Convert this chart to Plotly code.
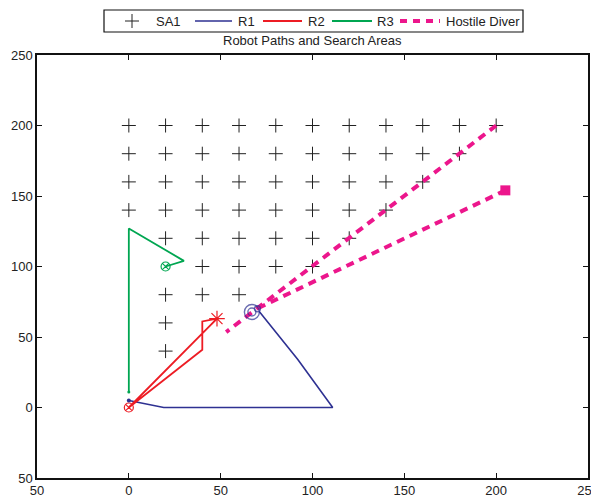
import plotly.graph_objects as go

# ---- data ----
sa1_rows = {200: list(range(0, 201, 20)),
            180: list(range(0, 181, 20)),
            160: list(range(0, 161, 20)),
            140: list(range(0, 141, 20)),
            120: list(range(20, 121, 20)),
            100: list(range(40, 101, 20)),
            80: list(range(20, 61, 20)),
            60: [20],
            40: [20]}
sa1_x = [x for y, xs in sa1_rows.items() for x in xs]
sa1_y = [y for y, xs in sa1_rows.items() for x in xs]

r1_x = [0, 19, 111, 92, 71]
r1_y = [5, 0, 0, 34, 68]
r2_x = [0, 48, 40, 40, 0]
r2_y = [0, 63, 61, 41, 0]
r3_x = [0, 0, 30, 20]
r3_y = [11, 127, 104, 100]
hd1_x = [200, 53]
hd1_y = [200, 53.5]
hd2_x = [205, 68]
hd2_y = [154, 69]

legend_names = ["SA1", "R1", "R2", "R3", "Hostile Diver"]

xticks = [-50, 0, 50, 100, 150, 200, 250]
xticktext = ["50", "0", "50", "100", "150", "200", "250"]
yticks = [-50, 0, 50, 100, 150, 200, 250]
yticktext = ["50", "0", "50", "100", "150", "200", "250"]

BLUE = "#2E3192"
RED = "#ED1C24"
GREEN = "#00A651"
MAG = "#EC168C"
CROSS = "#222"
DASH = "8px,6px"

fig = go.Figure()
fig.add_trace(go.Scatter(x=sa1_x, y=sa1_y, mode="markers", name=legend_names[0],
                         marker=dict(symbol="cross-thin", size=10, color=CROSS,
                                     line=dict(width=1, color=CROSS))))
fig.add_trace(go.Scatter(x=r1_x, y=r1_y, mode="lines", name=legend_names[1],
                         line=dict(color=BLUE, width=1.6)))
fig.add_trace(go.Scatter(x=r2_x, y=r2_y, mode="lines", name=legend_names[2],
                         line=dict(color=RED, width=1.8)))
fig.add_trace(go.Scatter(x=r3_x, y=r3_y, mode="lines", name=legend_names[3],
                         line=dict(color=GREEN, width=1.8)))
fig.add_trace(go.Scatter(x=hd1_x, y=hd1_y, mode="lines", name=legend_names[4],
                         line=dict(color=MAG, width=4, dash=DASH)))
fig.add_trace(go.Scatter(x=hd2_x, y=hd2_y, mode="lines",
                         line=dict(color=MAG, width=4, dash=DASH)))

# end / start markers
fig.add_trace(go.Scatter(x=[hd2_x[0]], y=[hd2_y[0]], mode="markers",
                         marker=dict(symbol="square", size=10, color=MAG)))
fig.add_trace(go.Scatter(x=[r2_x[0]], y=[r2_y[0]], mode="markers",
                         marker=dict(symbol="circle-x-open", size=9, color=RED,
                                     line=dict(width=1.2, color=RED))))
fig.add_trace(go.Scatter(x=[r2_x[1]], y=[r2_y[1]], mode="markers",
                         marker=dict(symbol="asterisk-open", size=13, color=RED,
                                     line=dict(width=1.2, color=RED))))
fig.add_trace(go.Scatter(x=[r3_x[-1]], y=[r3_y[-1]], mode="markers",
                         marker=dict(symbol="circle-x-open", size=9, color=GREEN,
                                     line=dict(width=1.2, color=GREEN))))
fig.add_trace(go.Scatter(x=[r3_x[0]], y=[r3_y[0]], mode="markers",
                         marker=dict(symbol="circle", size=3, color=GREEN)))
fig.add_trace(go.Scatter(x=[r1_x[0]], y=[r1_y[0]], mode="markers",
                         marker=dict(symbol="circle", size=4, color=BLUE)))
fig.add_trace(go.Scatter(x=[67, 67, 70], y=[67.7, 67.7, 70], mode="markers",
                         marker=dict(symbol="circle-open", size=[15, 8, 6], color=BLUE,
                                     line=dict(width=1.4, color=BLUE))))
fig.update_traces(showlegend=False)

# ---- legend box drawn in paper coordinates (page-pixel helpers) ----
def px(xp):
    return (xp - 37) / 551.0

def py(yp):
    return (478 - yp) / 423.0

shapes = [dict(type="rect", xref="paper", yref="paper", x0=px(104), x1=px(523),
               y0=py(32), y1=py(10), line=dict(color="#111", width=1.2),
               fillcolor="white", layer="above")]
yc = py(21)
# SA1 cross symbol
shapes.append(dict(type="line", xref="paper", yref="paper", x0=px(125), x1=px(139),
                   y0=yc, y1=yc, line=dict(color=CROSS, width=1)))
shapes.append(dict(type="line", xref="paper", yref="paper", x0=px(132), x1=px(132),
                   y0=py(14), y1=py(28), line=dict(color=CROSS, width=1)))
# line symbols
for (a, b, col, w, d) in [(195, 232, BLUE, 1.6, "solid"), (263, 302, RED, 1.8, "solid"),
                          (332, 372, GREEN, 1.8, "solid"), (400, 440, MAG, 4, "7px,6px")]:
    shapes.append(dict(type="line", xref="paper", yref="paper", x0=px(a), x1=px(b),
                       y0=yc, y1=yc, line=dict(color=col, width=w, dash=d)))
for name, xl in zip(legend_names, [155, 237, 307, 376, 445]):
    fig.add_annotation(text=name, x=px(xl), y=yc, xref="paper", yref="paper",
                       showarrow=False, xanchor="left", yanchor="middle",
                       font=dict(size=13, color="#222"), xshift=-1)

fig.add_annotation(text="Robot Paths and Search Areas", x=0.5, y=py(40),
                   xref="paper", yref="paper", showarrow=False,
                   xanchor="center", yanchor="middle",
                   font=dict(size=13, color="#222"))

axis_common = dict(showgrid=False, zeroline=False, showline=True, linecolor="#111",
                   linewidth=1.5, mirror="ticks", ticks="inside", ticklen=5,
                   tickcolor="#111", tickfont=dict(size=13, color="#222"),
                   automargin=False)
fig.update_xaxes(range=[-50, 250], tickvals=xticks, ticktext=xticktext, **axis_common)
fig.update_yaxes(range=[-50, 250], tickvals=yticks, ticktext=yticktext, **axis_common)

# page body has an 8px margin, so the figure is 8px smaller each way
fig.update_layout(
    width=591, height=491,
    margin=dict(l=29, r=11, t=47, b=21, autoexpand=False),
    plot_bgcolor="white", paper_bgcolor="white",
    font=dict(family="Liberation Sans, Arial, sans-serif", size=13, color="#222"),
    shapes=shapes,
    showlegend=False,
)

fig.write_html("out.html")
